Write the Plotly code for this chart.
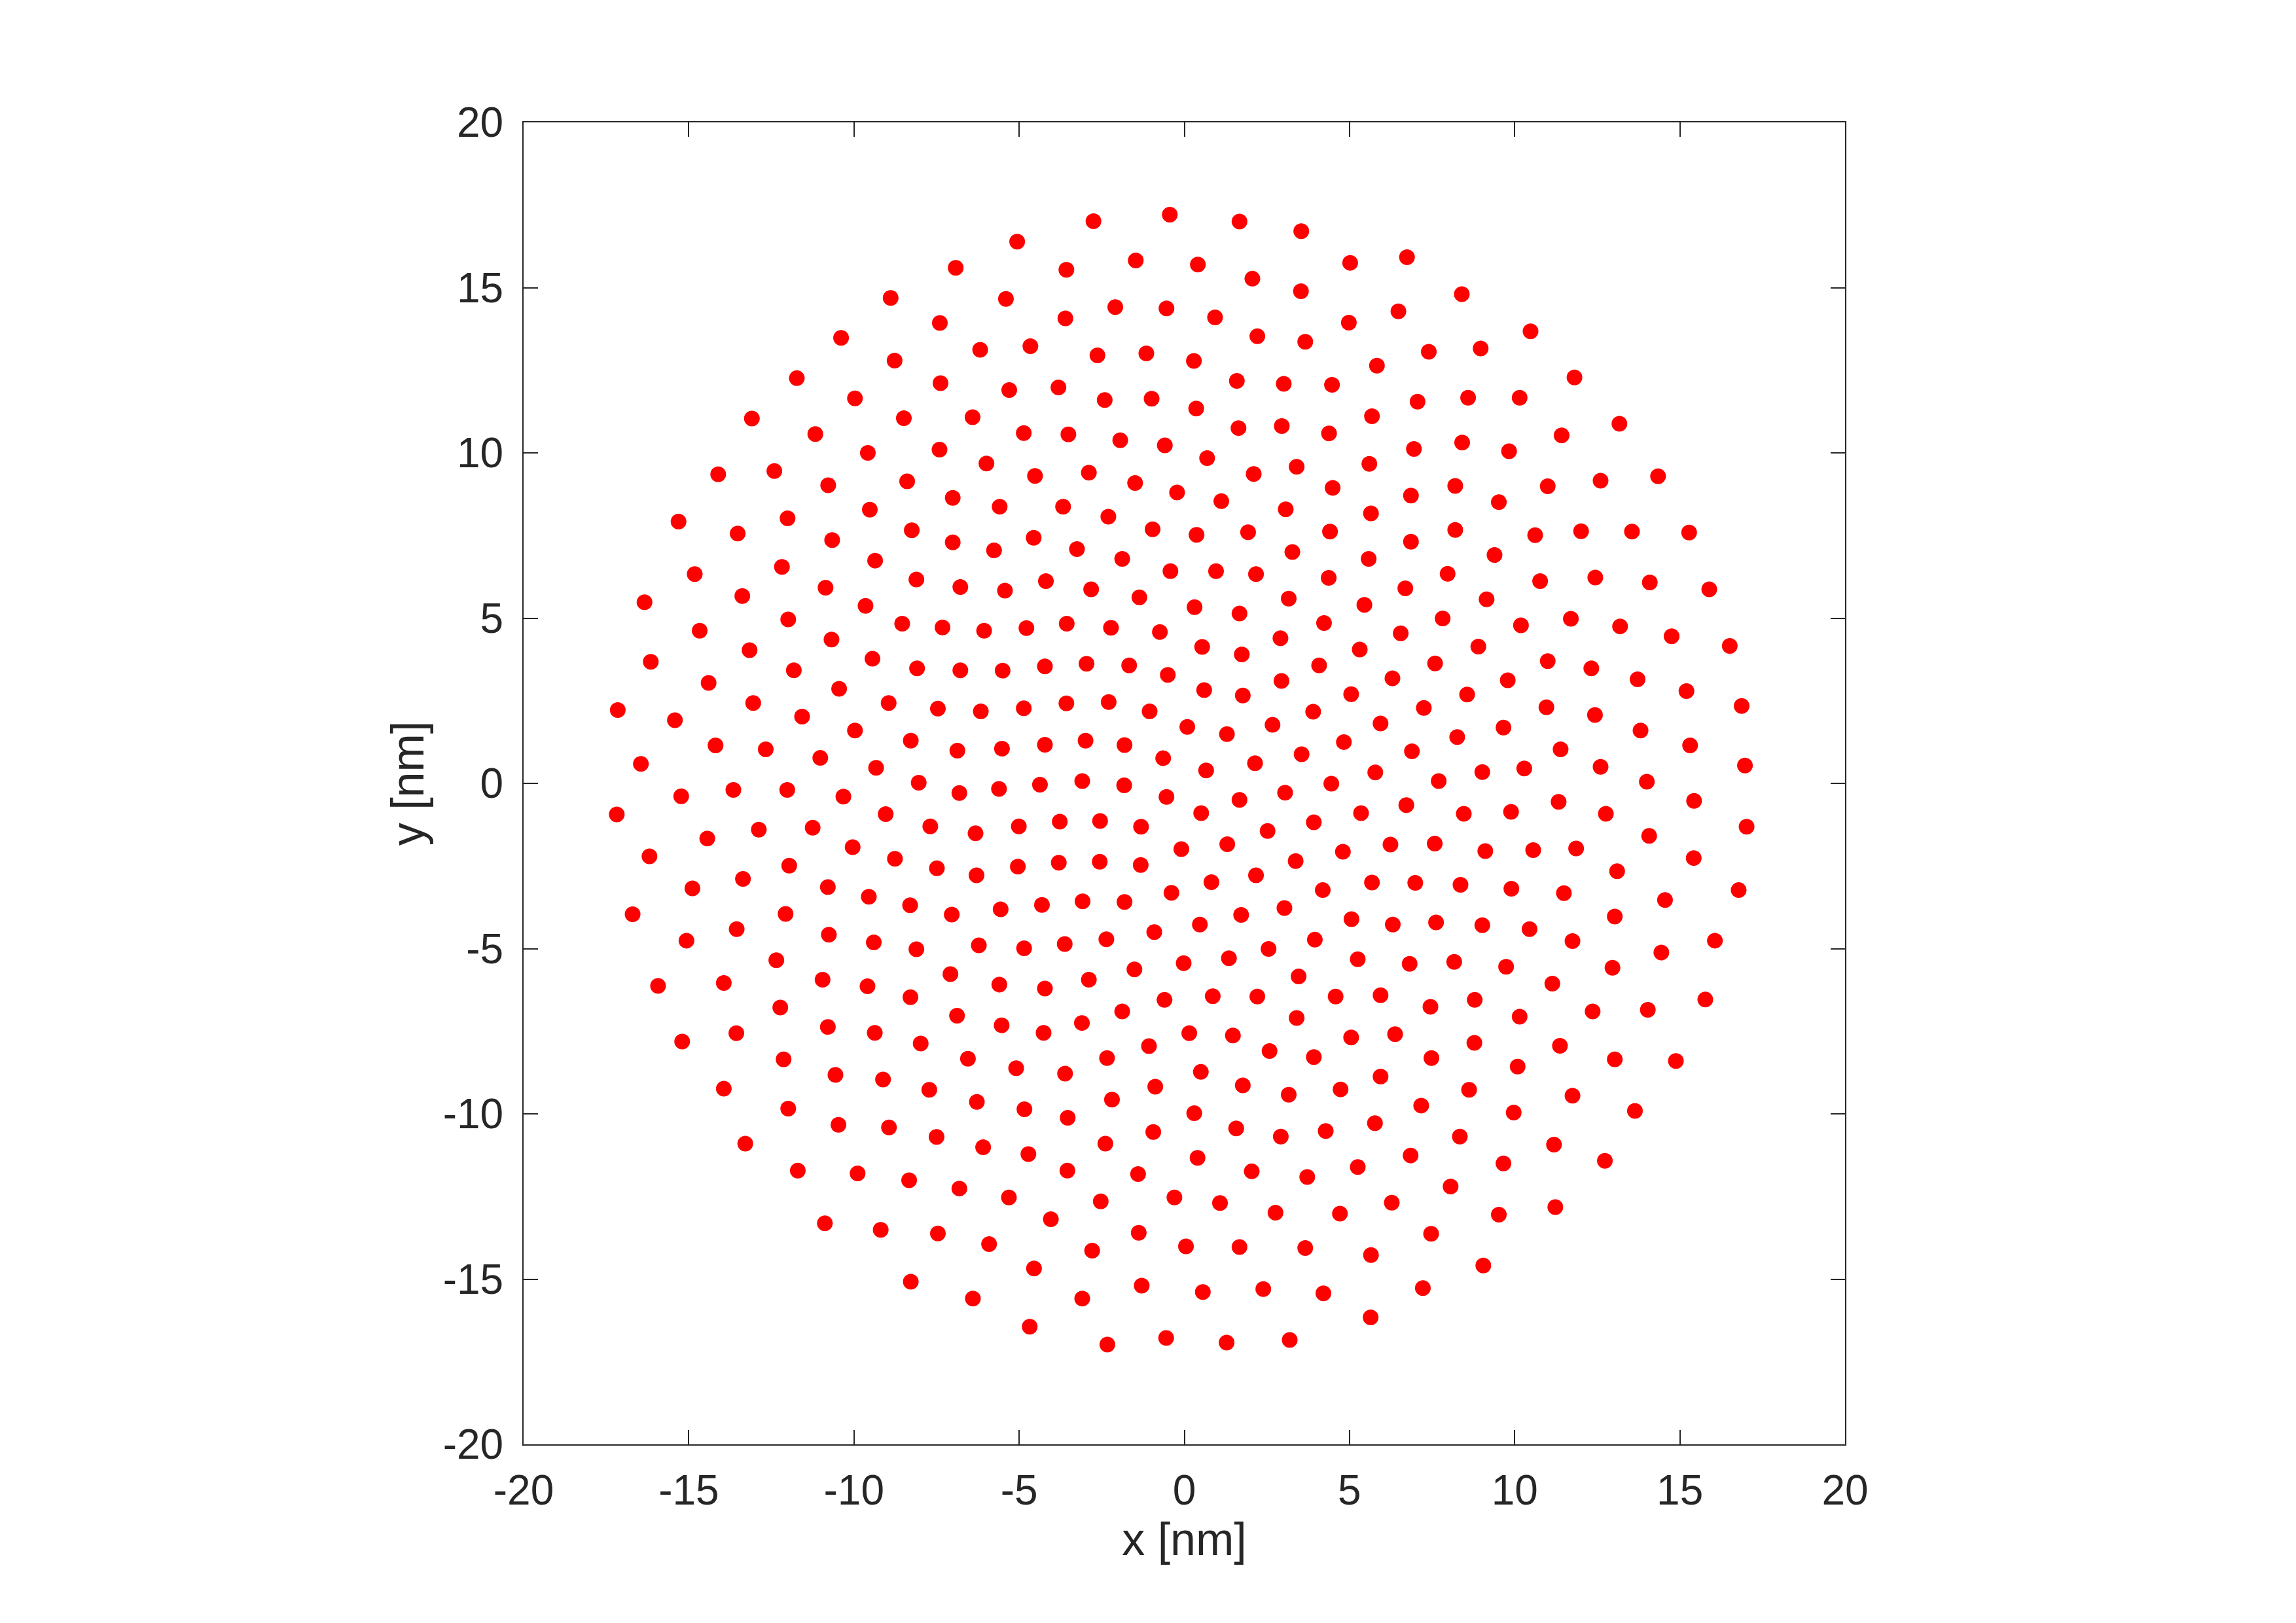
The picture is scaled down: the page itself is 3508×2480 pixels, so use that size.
import plotly.graph_objects as go

# Point positions (nm)
x_nm = [
    # upper-left
    -6.92, -8.89, -7.40, -10.39, -6.18, -8.77, -11.73, -7.38, -9.97, -13.09, -8.49, -6.41, -11.17, -9.58, -7.41, -5.99,
    -14.11, -12.41, -10.78, -8.39, -7.01, -9.52, -15.31, -12.01, -13.52, -10.66, -8.25, -7.01, -9.36, -14.82, -12.18, -8.11,
    # upper-middle
    -5.06, -2.75, -0.44, 1.67, 3.54, -3.57, -1.47, 0.41, 2.06, 5.02, -5.40, -3.60, -2.09, -0.54, 0.93, 3.53, 2.21, 4.98,
    -4.66, -2.63, -1.15, 0.29, 3.66, 5.83, -5.30, -3.81, -2.41, -0.99, 0.36, 1.59, 3.01, 4.47, 5.68, -4.86, -3.51, -1.94,
    -0.59, 1.64, 2.95, 4.38, 0.69, 2.10, 3.40, 5.60, -4.52, -2.89, -1.49, -0.22, 1.12, 4.49, -5.59, -3.67, -2.30, 3.07,
    5.65, -4.56, -3.25, -0.96, 0.37, 1.93, 4.41, -5.76, -1.88, 3.27, 5.58, -0.42, 0.96, 2.17, 4.37, -4.19,
    # upper-right
    6.74, 8.40, 6.48, 10.48, 7.40, 8.97, 11.81, 7.06, 8.59, 10.15, 13.17, 6.95, 8.41, 9.83, 11.42, 6.86,
    8.20, 9.52, 11.00, 12.60, 14.34, 6.86, 8.20, 9.39, 10.62, 12.01, 13.55, 15.28, 7.97, 10.77, 12.44, 14.09,
    # middle-left
    -10.86, -6.78, -16.34, -13.38, -11.99, -9.65, -14.67, -10.68, -8.54, -7.32, -6.06, -16.15, -13.16, -11.82, -9.44,
    -8.09, -6.78, -14.40, -10.45, -17.15, -13.05, -8.95, -7.46, -6.16, -15.42, -11.57, -9.97, -14.19, -12.67, -8.28,
    -11.02, -6.87, -16.45, -9.33, -13.65, -12.02, -8.04, -15.23, -10.32, -6.81, -17.18, -9.04, -12.88, -11.25, -7.69,
    -6.32, -14.44, -10.04, -16.19, -11.96, -8.76, -7.49, -6.29, -14.89, -13.36, -10.79, -9.55, -8.30, -16.70, -12.07,
    -7.04, -15.07, -13.55, -10.76, -9.40, -8.11, -6.22, -12.35, -7.08, -10.95,
    # centre
    -5.43, -2.82, -1.36, 0.31, 1.67, 3.16, 5.45, -4.78, -3.56, -2.22, -0.74, 0.54, 1.74, 2.91, 4.23, 5.31, -5.50, -4.22,
    -2.96, -1.67, -0.50, 0.60, 1.77, 2.94, 4.08, 5.05, -4.86, -3.57, -2.29, -1.05, 0.09, 1.29, 2.67, 3.90, 5.94, -5.52,
    -4.22, -2.99, -1.81, -0.64, 0.66, 2.14, 3.55, 4.83, -5.61, -4.37, -3.09, -1.82, -0.54, 1.67, 3.05, 4.45, 5.78, 0.51,
    -5.01, -3.77, -2.55, -1.31, 2.52, 3.92, 5.35, -0.09, 1.30, -5.04, -3.80, -2.56, -1.32, 3.37, 4.80, 0.82, 2.17, 5.68,
    -0.39, 4.19, -5.56, -4.31, -3.08, -1.81, 1.72, 3.03, 0.47, -0.91, 5.06, -4.85, -3.62, -2.36, 2.55, 3.95, -1.51,
    -0.02, 1.35, 5.25, 3.46, -2.89,
    # middle-right
    6.69, 15.89, 9.15, 7.82, 10.19, 11.70, 13.19, 14.75, 16.51, 6.55, 8.90, 7.59, 11.00, 12.32, 13.72, 6.30, 9.79,
    15.20, 8.56, 7.25, 10.96, 12.43, 16.87, 9.66, 13.81, 8.26, 15.31, 6.89, 11.39, 12.60, 16.97, 9.02, 10.29, 7.70,
    14.00, 6.72, 8.46, 9.89, 11.33, 12.76, 15.43, 17.02, 14.07, 6.24, 7.58, 9.11, 10.56, 11.86, 15.42, 13.10, 6.99,
    8.36, 9.90, 11.49, 14.55, 16.78, 6.31, 7.62, 9.02, 10.45, 13.03, 11.75, 16.06, 14.44, 6.82, 8.17, 9.74, 12.96,
    # lower-left
    -15.93, -13.94, -9.59, -8.29, -12.23, -6.88, -15.20, -13.56, -10.79, -9.37, -7.98, -12.13, -6.55, -10.56, -9.12,
    -13.94, -7.72, -6.28, -11.99, -10.47, -8.94, -13.29, -7.50, -6.09, -11.70, -9.89, -8.33, -6.81, -10.88, -9.19,
    -7.46, -8.28, -6.40,
    # lower-middle
    -5.60, -4.22, -0.60, 0.86, 2.21, 4.58, 5.94, -1.88, 3.40, -5.53, -4.26, -3.10, 0.15, 1.47, 5.05, -1.07, 2.58, 3.92,
    -2.34, -5.09, -3.61, 0.50, 5.94, -0.88, 1.77, 3.16, 4.73, -2.19, -4.84, -3.53, 0.30, 1.57, 2.92, 4.28, 5.77, -0.94,
    -2.39, -4.72, 0.40, -3.54, -1.40, 2.04, 3.72, 5.25, -5.31, -2.53, -0.30, 1.08, 2.76, 4.71, -4.04, -1.38, -5.91,
    -2.79, 0.05, 1.67, 3.66, 5.65, -4.55, -1.29, 0.56, 2.39, 4.21, -3.09, 5.64, -4.68, -2.33, -0.55, 1.28, 3.19,
    # lower-right
    11.14, 7.45, 8.79, 10.15, 12.36, 14.03, 15.77, 6.38, 8.78, 11.37, 7.48, 10.09, 13.03, 14.88, 8.62, 11.75, 7.17,
    9.97, 13.64, 8.34, 11.19, 6.85, 9.66, 12.73, 8.06, 6.28, 9.52, 11.23, 7.47, 9.05, 7.22,
]

y_nm = [
    # upper-left
    15.60, 14.69, 13.93, 13.48, 13.12, 12.79, 12.26, 12.11, 11.65, 11.04, 11.05, 11.08, 10.57, 10.00, 10.10, 9.68,
    9.35, 9.45, 9.02, 9.14, 8.64, 8.28, 7.92, 8.02, 7.56, 7.36, 7.66, 7.29, 6.74, 6.33, 6.55, 6.17,
    # upper-middle
    16.39, 17.01, 17.21, 17.00, 16.71, 15.54, 15.82, 15.70, 15.27, 15.75, 14.66, 14.07, 14.41, 14.37, 14.10, 14.89, 13.53, 13.94,
    13.23, 12.95, 13.01, 12.78, 13.36, 12.64, 11.90, 11.98, 11.60, 11.64, 11.34, 12.18, 12.09, 12.06, 11.11, 10.60, 10.56, 10.38,
    10.23, 10.75, 10.81, 10.59, 9.84, 9.36, 9.58, 9.67, 9.30, 9.40, 9.09, 8.80, 8.54, 8.94, 8.37, 8.37, 8.07, 8.29,
    8.17, 7.43, 7.09, 7.69, 7.52, 7.60, 7.62, 7.05, 6.79, 7.00, 6.79, 6.42, 6.42, 6.33, 6.22, 6.12,
    # upper-right
    15.92, 14.80, 14.28, 13.68, 13.06, 13.16, 12.28, 11.55, 11.67, 11.67, 10.88, 10.12, 10.31, 10.05, 10.53, 8.71,
    9.00, 8.51, 8.99, 9.16, 9.29, 7.31, 7.67, 6.91, 7.51, 7.63, 7.62, 7.59, 6.34, 6.12, 6.23, 6.08,
    # middle-left
    5.92, 5.94, 5.48, 5.67, 4.96, 5.37, 4.62, 4.35, 4.83, 4.72, 4.62, 3.68, 4.03, 3.42, 3.77,
    3.48, 3.42, 3.04, 2.86, 2.22, 2.43, 2.43, 2.26, 2.18, 1.91, 2.02, 1.60, 1.15, 1.03, 1.29,
    0.77, 0.99, 0.59, 0.47, -0.20, -0.20, 0.02, -0.39, -0.40, -0.29, -0.94, -0.93, -1.40, -1.34, -1.30,
    -1.51, -1.67, -1.93, -2.21, -2.49, -2.28, -2.57, -2.78, -3.18, -2.89, -3.14, -3.43, -3.69, -3.96, -3.95,
    -3.97, -4.76, -4.41, -4.58, -4.81, -5.02, -4.90, -5.35, -5.77, -5.94,
    # centre
    5.83, 5.87, 5.63, 5.33, 5.14, 5.59, 5.40, 4.70, 4.83, 4.71, 4.58, 4.13, 3.90, 4.39, 4.85, 4.05, 3.41, 3.54,
    3.62, 3.57, 3.28, 2.82, 2.66, 3.10, 3.57, 2.70, 2.27, 2.42, 2.46, 2.18, 1.71, 1.49, 1.77, 2.17, 1.81, 1.05,
    1.17, 1.29, 1.16, 0.76, 0.39, 0.61, 0.88, 1.25, -0.17, -0.04, 0.07, -0.06, -0.41, -0.50, -0.28, -0.01, 0.33, -0.90,
    -1.30, -1.16, -1.14, -1.31, -1.44, -1.18, -0.90, -1.99, -1.84, -2.52, -2.40, -2.37, -2.47, -2.35, -2.07, -2.99, -2.78, -3.00,
    -3.31, -3.23, -3.81, -3.68, -3.57, -3.59, -3.98, -3.77, -4.27, -4.50, -4.11, -4.99, -4.86, -4.72, -5.01, -4.73, -5.63,
    -5.44, -5.29, -5.32, -5.84, -5.94,
    # middle-right
    5.90, 5.87, 5.57, 4.99, 4.78, 4.98, 4.75, 4.45, 4.16, 4.54, 4.14, 3.63, 3.70, 3.48, 3.15, 3.18, 3.12,
    2.79, 2.69, 2.28, 2.30, 2.07, 2.34, 1.69, 1.60, 1.40, 1.15, 0.97, 1.03, 0.50, 0.54, 0.34, 0.45, 0.07,
    0.05, -0.66, -0.92, -0.86, -0.56, -0.92, -0.53, -1.31, -1.59, -1.85, -1.82, -2.05, -2.02, -1.97, -2.26, -2.66, -3.01,
    -3.07, -3.19, -3.32, -3.53, -3.23, -4.27, -4.21, -4.29, -4.41, -4.03, -4.77, -4.76, -5.12, -5.46, -5.40, -5.55, -5.58,
    # lower-left
    -6.13, -6.04, -6.14, -6.47, -6.78, -7.03, -7.81, -7.56, -7.37, -7.55, -7.87, -8.35, -8.33, -8.82, -8.96,
    -9.24, -9.27, -9.64, -9.84, -10.33, -10.41, -10.90, -10.70, -11.01, -11.72, -11.80, -12.01, -12.26, -13.31, -13.51,
    -13.62, -15.08, -15.59,
    # lower-middle
    -6.09, -6.21, -6.55, -6.44, -6.45, -6.45, -6.41, -6.90, -7.10, -7.32, -7.55, -7.25, -7.56, -7.63, -7.69, -7.95, -8.10, -8.28,
    -8.31, -8.62, -8.78, -8.73, -8.87, -9.18, -9.14, -9.42, -9.26, -9.57, -9.86, -10.12, -9.98, -10.44, -10.69, -10.52, -10.28, -10.55,
    -10.90, -11.22, -11.33, -11.72, -11.82, -11.74, -11.91, -11.61, -12.53, -12.65, -12.53, -12.70, -12.99, -13.02, -13.19, -13.60, -13.94,
    -14.14, -14.01, -14.03, -14.06, -14.27, -14.68, -15.20, -15.39, -15.30, -15.43, -15.59, -16.16, -16.44, -16.98, -16.78, -16.92, -16.84,
    # lower-right
    -6.06, -6.76, -6.55, -7.06, -6.90, -6.85, -6.54, -7.59, -7.85, -7.94, -8.31, -8.57, -8.35, -8.40, -9.27, -9.45, -9.75,
    -9.96, -9.91, -10.69, -10.93, -11.26, -11.50, -11.42, -12.20, -12.69, -13.05, -12.82, -13.63, -14.59, -15.27,
]

tick_values = [-20, -15, -10, -5, 0, 5, 10, 15, 20]
tick_labels = ["-20", "-15", "-10", "-5", "0", "5", "10", "15", "20"]

axis_color = "#262626"
font_family = "Liberation Sans, Arial, Helvetica, sans-serif"

fig = go.Figure(
    go.Scatter(
        x=x_nm,
        y=y_nm,
        mode="markers",
        marker=dict(size=24, color="#FF0000", line=dict(width=0)),
        hoverinfo="x+y",
    )
)

axis_common = dict(
    range=[-20, 20],
    tickmode="array",
    tickvals=tick_values,
    ticktext=tick_labels,
    ticks="inside",
    ticklen=22,
    tickwidth=2,
    tickcolor=axis_color,
    showline=True,
    linecolor=axis_color,
    linewidth=2,
    mirror="ticks",
    showgrid=False,
    zeroline=False,
    tickfont=dict(family=font_family, size=64, color=axis_color),
    automargin=False,
)

fig.update_xaxes(
    **axis_common,
    ticklabelstandoff=13,
    title=dict(text="x [nm]", font=dict(family=font_family, size=70, color=axis_color), standoff=14),
)
fig.update_yaxes(
    **axis_common,
    ticklabelstandoff=16,
    title=dict(text="y [nm]", font=dict(family=font_family, size=70, color=axis_color), standoff=6),
)

# The page body adds an 8 px offset, so the figure is 8 px smaller
fig.update_layout(
    width=3500,
    height=2472,
    margin=dict(l=792, r=689, t=179, b=273, pad=0, autoexpand=False),
    paper_bgcolor="white",
    plot_bgcolor="white",
    showlegend=False,
    font=dict(family=font_family, color=axis_color),
)

fig.write_html("out.html")
